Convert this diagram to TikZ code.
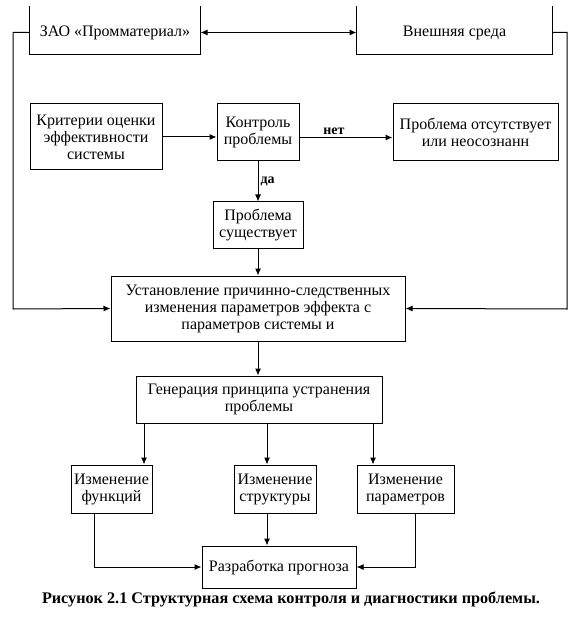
\documentclass[tikz,border=0pt]{standalone}
\usepackage{fontspec}
\setmainfont{Liberation Serif}
\usetikzlibrary{arrows.meta,calc}

\begin{document}
\begin{tikzpicture}[x=1pt, y=-1pt, >={Latex[length=7pt,width=6pt]}, line width=1pt,
	box/.style={draw, inner sep=0pt, align=center, font=\fontsize{16}{17}\selectfont},
	lbl/.style={font=\bfseries\fontsize{14}{16}\selectfont, inner sep=2pt}]
		%%%%% START %%%%%
		\useasboundingbox (0,0) rectangle (580,628);
		
		% top row, boxes open above
		\node[box, draw=none, minimum width=170, minimum height=43] (zao) at (115,32.5) {ЗАО «Промматериал»};
		\draw ([yshift=4pt]zao.north west) |- (zao.south east) -- ([yshift=4pt]zao.north east);
		\node[box, draw=none, minimum width=195, minimum height=43] (env) at (454.5,32.5) {Внешняя среда};
		\draw ([yshift=4pt]env.north west) |- (env.south east) -- ([yshift=4pt]env.north east);
		\draw[<->] (zao.east) -- (env.west);
		
		% control row
		\node[box, minimum width=132, minimum height=66] (crit) at (96,137) {Критерии оценки\\эффективности\\системы};
		\node[box, minimum width=82, minimum height=57] (ctrl) at (258,132.5) {Контроль\\проблемы};
		\node[box, minimum width=165, minimum height=57] (none) at (475.5,132.5) {Проблема отсутствует\\или неосознанн};
		\node[box, minimum width=90, minimum height=46] (prob) at (258,225) {Проблема\\существует};
		
		\draw[->] (crit.east) -- (crit.east -| ctrl.west);
		\draw[->] ([yshift=-5pt]ctrl.east) -- node[lbl, pos=0.37, above] (no) {нет} ([yshift=-5pt]none.west);
		\draw[->] (ctrl.south) -- node[lbl, right] (yes) {да} (prob.north);
		
		% analysis
		\node[box, minimum width=294, minimum height=65] (cause) at (258,308.5) {Установление причинно-следственных\\изменения параметров эффекта с\\параметров системы и};
		\draw[->] (prob.south) -- (cause.north);
		
		\coordinate (lft) at (13,309);
		\coordinate (rgt) at (567,309);
		\draw[->] (zao.west) -| (lft) -- (cause.west);
		\draw[->] (env.east) -| (rgt) -- (cause.east);
		
		\node[box, minimum width=246, minimum height=47] (gen) at (259,399.5) {Генерация принципа устранения\\проблемы};
		\draw[->] (cause.south) -- (cause.south |- gen.north);
		
		% changes
		\node[box, minimum width=81, minimum height=48] (chfun) at (111.5,489) {Изменение\\функций};
		\node[box, minimum width=82, minimum height=48] (chstr) at (275,489) {Изменение\\структуры};
		\node[box, minimum width=97, minimum height=48] (chpar) at (405.5,489) {Изменение\\параметров};
		
		\draw[->] (144,0 |- gen.south) -- (144,0 |- chfun.north);
		\draw[->] (267,0 |- gen.south) -- (267,0 |- chstr.north);
		\draw[->] (373,0 |- gen.south) -- (373,0 |- chpar.north);
		
		% forecast
		\node[box, minimum width=154, minimum height=42] (fore) at (279,567) {Разработка прогноза};
		\draw[->] (94,0 |- chfun.south) |- (fore.west);
		\draw[->] (267,0 |- chstr.south) -- (267,0 |- fore.north);
		\draw[->] (415,0 |- chpar.south) |- (fore.east);
		
		\node[font=\bfseries\fontsize{16.2}{18}\selectfont] (cap) at (291,599) {Рисунок 2.1 Структурная схема контроля и диагностики проблемы.};
		
		%%%%% END %%%%%
\end{tikzpicture}
\end{document}
